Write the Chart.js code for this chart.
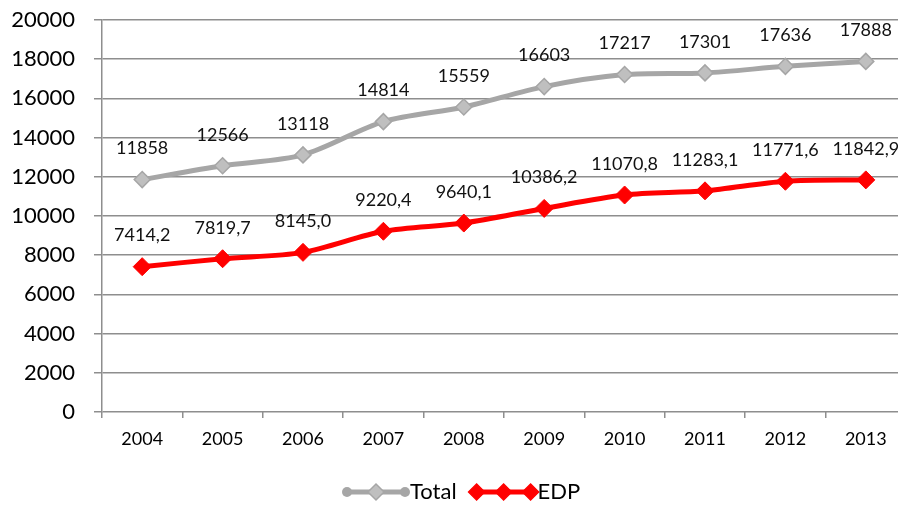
<!DOCTYPE html>
<html>
<head>
<meta charset="utf-8">
<script src="https://cdn.jsdelivr.net/npm/chart.js@4/dist/chart.umd.min.js"></script>
<style>
  html, body { margin: 0; padding: 0; background: #fff; overflow: hidden; }
</style>
</head>
<body>
<canvas id="chart" width="908" height="505"></canvas>
<script>
const years = ["2004", "2005", "2006", "2007", "2008", "2009", "2010", "2011", "2012", "2013"];
const totalValues = [11858, 12566, 13118, 14814, 15559, 16603, 17217, 17301, 17636, 17888];
const edpValues = [7414.2, 7819.7, 8145.0, 9220.4, 9640.1, 10386.2, 11070.8, 11283.1, 11771.6, 11842.9];
const yTicks = [0, 2000, 4000, 6000, 8000, 10000, 12000, 14000, 16000, 18000, 20000];

const FONT = "Lato, 'Open Sans', sans-serif";

// labels above every point, comma decimals like the original
const pointLabels = {
  id: "pointLabels",
  afterDatasetsDraw(chart) {
    const ctx = chart.ctx;
    ctx.save();
    ctx.font = "18px " + FONT;
    ctx.fillStyle = "#111";
    ctx.textAlign = "center";
    ctx.textBaseline = "middle";
    chart.data.datasets.forEach((ds, i) => {
      chart.getDatasetMeta(i).data.forEach((pt, j) => {
        const v = ds.data[j];
        const txt = ds.decimals ? v.toFixed(1).replace(".", ",") : String(v);
        ctx.fillText(txt, pt.x, pt.y - 31);
      });
    });
    ctx.restore();
  },
};

// legend with line + marker sample
const lineLegend = {
  id: "lineLegend",
  afterDraw(chart) {
    const ctx = chart.ctx;
    const y = 492;
    let x = 343;
    ctx.save();
    ctx.font = "22px " + FONT;
    ctx.textBaseline = "middle";
    chart.data.datasets.forEach((ds) => {
      ctx.strokeStyle = ds.borderColor;
      ctx.lineWidth = 5;
      ctx.lineCap = ds.decimals ? "butt" : "round";
      ctx.beginPath();
      ctx.moveTo(x + 4, y);
      ctx.lineTo(x + 62, y);
      ctx.stroke();
      if (!ds.decimals) {
        [x + 4, x + 62].forEach((px) => {
          ctx.beginPath();
          ctx.arc(px, y, 5, 0, Math.PI * 2);
          ctx.fillStyle = ds.borderColor;
          ctx.fill();
        });
      }
      const pts = ds.decimals ? [x + 6, x + 33, x + 60] : [x + 33];
      pts.forEach((px) => {
        ctx.beginPath();
        ctx.moveTo(px, y - 8);
        ctx.lineTo(px + 8, y);
        ctx.lineTo(px, y + 8);
        ctx.lineTo(px - 8, y);
        ctx.closePath();
        ctx.fillStyle = ds.pointBackgroundColor;
        ctx.fill();
        ctx.lineWidth = 1.5;
        ctx.strokeStyle = ds.pointBorderColor;
        ctx.stroke();
      });
      ctx.fillStyle = "#000";
      ctx.fillText(ds.label, x + 67, y);
      x += 67 + ctx.measureText(ds.label).width + 14;
    });
    ctx.restore();
  },
};

new Chart(document.getElementById("chart"), {
  type: "line",
  data: {
    labels: years,
    datasets: [
      {
        label: "Total",
        data: totalValues,
        borderColor: "#a6a6a6",
        borderWidth: 5,
        pointStyle: "rectRot",
        pointRadius: 8,
        pointBackgroundColor: "#bfbfbf",
        pointBorderColor: "#a6a6a6",
        pointBorderWidth: 1.5,
        tension: 0.3,
        decimals: false,
      },
      {
        label: "EDP",
        data: edpValues,
        borderColor: "#ff0000",
        borderWidth: 5,
        pointStyle: "rectRot",
        pointRadius: 9,
        pointBackgroundColor: "#ff0000",
        pointBorderColor: "#ff0000",
        pointBorderWidth: 1,
        tension: 0.3,
        decimals: true,
      },
    ],
  },
  options: {
    responsive: false,
    animation: false,
    layout: { autoPadding: false, padding: { top: 20, right: 2, bottom: 48, left: 0 } },
    plugins: { legend: { display: false }, tooltip: { enabled: false } },
    scales: {
      x: {
        offset: true,
        grid: { offset: true, drawOnChartArea: false, drawTicks: true, tickLength: 6, color: "#8e8e8e", lineWidth: 1.5 },
        border: { display: false },
        ticks: { color: "#000", font: { family: FONT, size: 18 }, padding: 10, maxRotation: 0 },
        afterFit(scale) { scale.height = 45; },
      },
      y: {
        min: 0,
        max: 20000,
        grid: { color: "#8e8e8e", lineWidth: 1.5, tickLength: 8 },
        border: { color: "#8e8e8e", width: 1.5 },
        ticks: { color: "#000", font: { family: FONT, size: 22 }, padding: 19, callback: (v) => String(v) },
        afterBuildTicks(scale) { scale.ticks = yTicks.map((v) => ({ value: v })); },
        afterFit(scale) {
          scale.width = 102;
          // tick padding would otherwise push the plot top down
          scale.paddingTop = 0;
          scale.paddingBottom = 0;
        },
      },
    },
  },
  plugins: [pointLabels, lineLegend],
});
</script>
</body>
</html>
